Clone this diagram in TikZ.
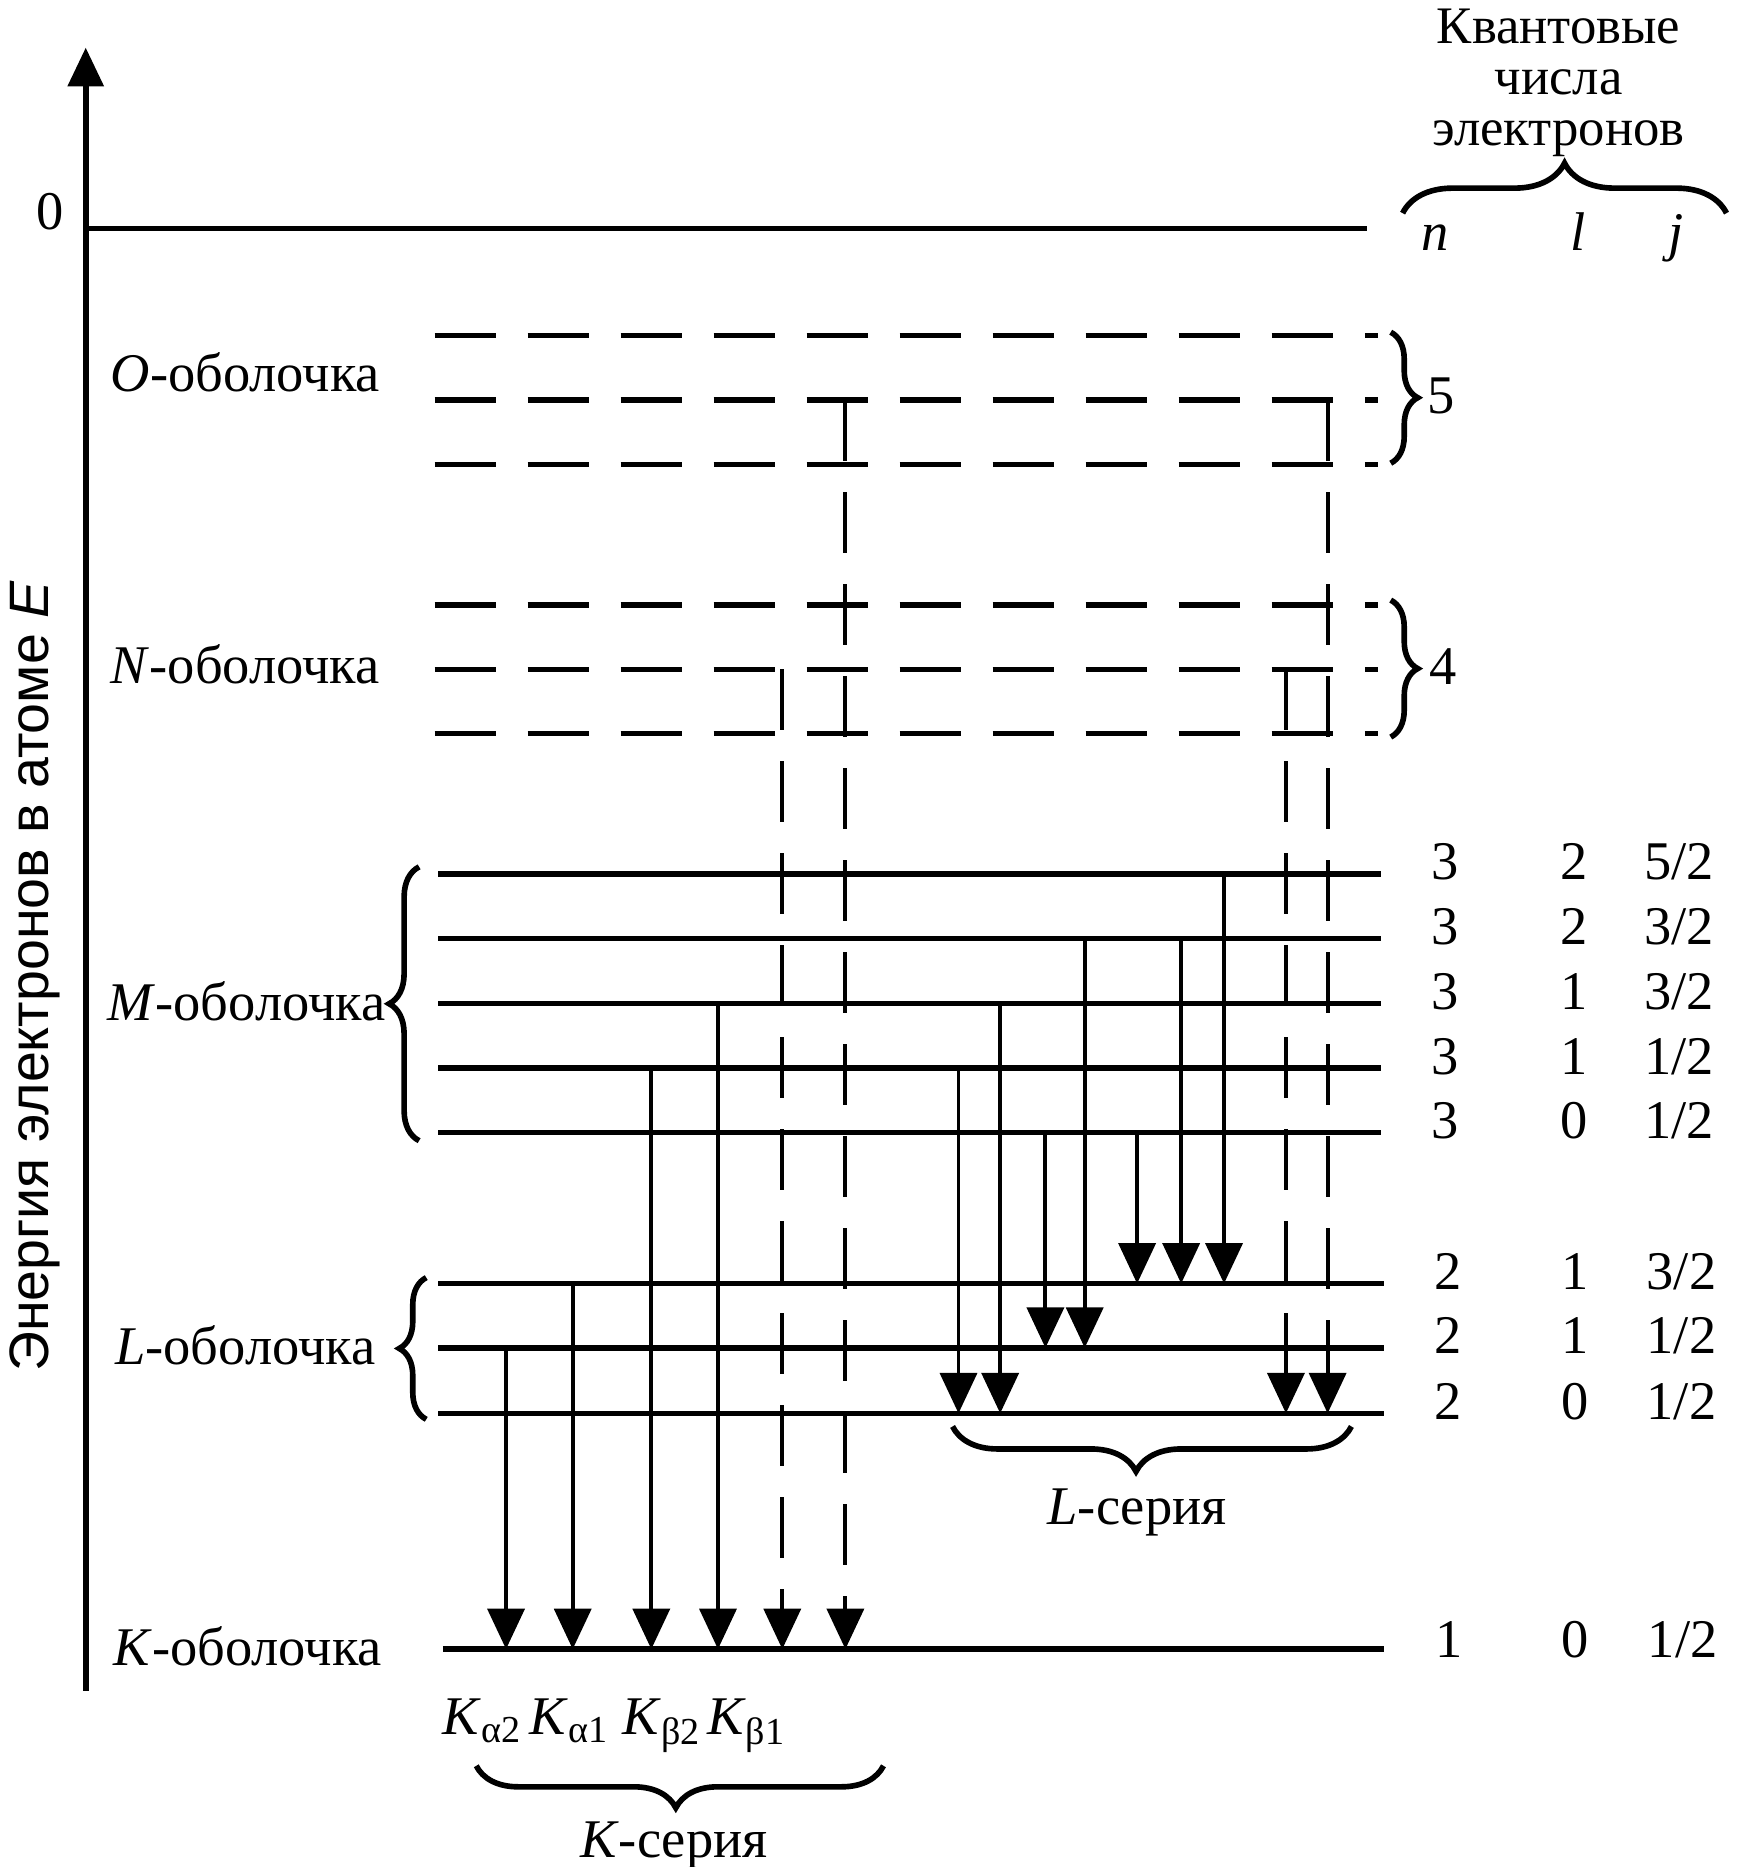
\documentclass[tikz,border=0pt]{standalone}
\usepackage{fontspec}
\setmainfont{Liberation Serif}
\newfontfamily\axisfont{Liberation Sans}
\usetikzlibrary{arrows.meta,decorations.pathreplacing}

\tikzset{
    solidlevel/.style={black, line width=1.5pt},
    dashlevel/.style={black, line width=1.5pt, dash pattern=on 0.61cm off 0.32cm},
    jump/.style={black, line width=1.1pt, -{Triangle[length=11.5pt,width=10.5pt]}},
    dashjump/.style={jump, dash pattern=on 0.61cm off 0.31cm},
    shellbrace/.style={decorate, black, line width=1.6pt, decoration={brace, amplitude=#1}},
}

\newcommand{\Levels}{
    \draw[black, line width=1.6pt] (0.72,1.92) -- (11.48,1.92);
    \draw[dashlevel] (3.65,2.82) -- (11.57,2.82);
    \draw[dashlevel] (3.65,3.36) -- (11.57,3.36);
    \draw[dashlevel] (3.65,3.90) -- (11.57,3.90);
    \draw[dashlevel] (3.65,5.08) -- (11.57,5.08);
    \draw[dashlevel] (3.65,5.62) -- (11.57,5.62);
    \draw[dashlevel] (3.65,6.16) -- (11.57,6.16);
    \draw[solidlevel] (3.68,7.34) -- (11.60,7.34);
    \draw[solidlevel] (3.68,7.88) -- (11.60,7.88);
    \draw[solidlevel] (3.68,8.43) -- (11.60,8.43);
    \draw[solidlevel] (3.68,8.97) -- (11.60,8.97);
    \draw[solidlevel] (3.68,9.51) -- (11.60,9.51);
    \draw[solidlevel] (3.68,10.78) -- (11.62,10.78);
    \draw[solidlevel] (3.68,11.32) -- (11.62,11.32);
    \draw[solidlevel] (3.68,11.87) -- (11.62,11.87);
    \draw[solidlevel] (3.72,13.85) -- (11.62,13.85);
}

\begin{document}
\begin{tikzpicture}[x=1.1905cm, y=-1.1905cm,
        every node/.style={font=\fontsize{15.5}{13.3}\selectfont, inner sep=0pt}]
    \useasboundingbox (0,0) rectangle (14.59,15.68);

    % energy axis
    \draw[black, line width=1.6pt, -{Triangle[length=11pt,width=10pt]}] (0.72,14.20) -- (0.72,0.40);
    \node[anchor=base] (zero) at (0.425,1.93) {0};
    \node[font=\axisfont\fontsize{15.8}{15.8}\selectfont, rotate=90] (axislabel) at (0.29,8.20) {Энергия электронов в атоме \textit{E}};

    \Levels

    % shell names
    \node[anchor=base] (oname) at (2.06,3.29) {\textit{O}-оболочка};
    \node[anchor=base] (nname) at (2.06,5.74) {\textit{N}-оболочка};
    \node[anchor=base] (mname) at (2.07,8.57) {\textit{M}-оболочка};
    \node[anchor=base] (lname) at (2.06,11.46) {\textit{L}-оболочка};
    \node[anchor=base] (kname) at (2.08,13.99) {\textit{K}-оболочка};
    \draw[shellbrace=0.30cm] (3.52,9.58) -- (3.52,7.28);
    \draw[shellbrace=0.27cm] (3.58,11.92) -- (3.58,10.73);
    \draw[shellbrace=0.27cm] (11.68,2.79) -- (11.68,3.89);
    \draw[shellbrace=0.27cm] (11.68,5.04) -- (11.68,6.19);
    \node[anchor=base] (five) at (12.10,3.47) {5};
    \node[anchor=base] (four) at (12.12,5.75) {4};

    % K-series
    \draw[jump] (4.25,11.32) -- (4.25,13.85);
    \draw[jump] (4.81,10.78) -- (4.81,13.85);
    \draw[jump] (5.47,8.97) -- (5.47,13.85);
    \draw[jump] (6.03,8.43) -- (6.03,13.85);
    \draw[dashjump] (6.57,5.62) -- (6.57,13.85);
    \draw[dashjump] (7.10,3.36) -- (7.10,13.85);
    \node[anchor=base] (ka2) at (4.05,14.57) {\textit{K}\textsubscript{α2}};
    \node[anchor=base] (ka1) at (4.78,14.57) {\textit{K}\textsubscript{α1}};
    \node[anchor=base] (kb2) at (5.56,14.57) {\textit{K}\textsubscript{β2}};
    \node[anchor=base] (kb1) at (6.27,14.57) {\textit{K}\textsubscript{β1}};
    \draw[shellbrace=0.42cm, decoration={aspect=0.51}] (7.42,14.83) -- (4.00,14.83);
    \node[anchor=base] (kseries) at (5.66,15.60) {\textit{K}-серия};

    % L-series
    \draw[jump] (8.05,8.97) -- (8.05,11.87);
    \draw[jump] (8.40,8.43) -- (8.40,11.87);
    \draw[jump] (8.78,9.51) -- (8.78,11.32);
    \draw[jump] (9.11,7.88) -- (9.11,11.32);
    \draw[jump] (9.55,9.51) -- (9.55,10.78);
    \draw[jump] (9.92,7.88) -- (9.92,10.78);
    \draw[jump] (10.28,7.34) -- (10.28,10.78);
    \draw[dashjump] (10.80,5.62) -- (10.80,11.87);
    \draw[dashjump] (11.15,3.36) -- (11.15,11.87);
    \draw[shellbrace=0.45cm, decoration={aspect=0.54}] (11.35,11.98) -- (8.00,11.98);
    \node[anchor=base] (lseries) at (9.55,12.80) {\textit{L}-серия};

    % quantum numbers
    \node[align=center, anchor=north, font=\fontsize{15}{14.5}\selectfont] (qtitle) at (13.09,0.07) {Квантовые\\числа\\электронов};
    \draw[shellbrace=0.5cm] (11.78,1.79) -- (14.50,1.79);
    \node[anchor=base] (nhead) at (12.05,2.10) {\textit{n}};
    \node[anchor=base] (lhead) at (13.25,2.10) {\textit{l}};
    \node[anchor=base] (jhead) at (14.08,2.10) {\textit{j}};

    \node[anchor=base] (n1) at (12.14,7.39) {3}; \node[anchor=base] (l1) at (13.22,7.39) {2}; \node[anchor=base east] (j1) at (14.40,7.39) {5/2};
    \node[anchor=base] (n2) at (12.14,7.93) {3}; \node[anchor=base] (l2) at (13.22,7.93) {2}; \node[anchor=base east] (j2) at (14.40,7.93) {3/2};
    \node[anchor=base] (n3) at (12.14,8.48) {3}; \node[anchor=base] (l3) at (13.22,8.48) {1}; \node[anchor=base east] (j3) at (14.40,8.48) {3/2};
    \node[anchor=base] (n4) at (12.14,9.02) {3}; \node[anchor=base] (l4) at (13.22,9.02) {1}; \node[anchor=base east] (j4) at (14.40,9.02) {1/2};
    \node[anchor=base] (n5) at (12.14,9.56) {3}; \node[anchor=base] (l5) at (13.22,9.56) {0}; \node[anchor=base east] (j5) at (14.40,9.56) {1/2};
    \node[anchor=base] (n6) at (12.16,10.83) {2}; \node[anchor=base] (l6) at (13.23,10.83) {1}; \node[anchor=base east] (j6) at (14.42,10.83) {3/2};
    \node[anchor=base] (n7) at (12.16,11.37) {2}; \node[anchor=base] (l7) at (13.23,11.37) {1}; \node[anchor=base east] (j7) at (14.42,11.37) {1/2};
    \node[anchor=base] (n8) at (12.16,11.92) {2}; \node[anchor=base] (l8) at (13.23,11.92) {0}; \node[anchor=base east] (j8) at (14.42,11.92) {1/2};
    \node[anchor=base] (n9) at (12.17,13.92) {1}; \node[anchor=base] (l9) at (13.23,13.92) {0}; \node[anchor=base east] (j9) at (14.43,13.92) {1/2};
\end{tikzpicture}
\end{document}
